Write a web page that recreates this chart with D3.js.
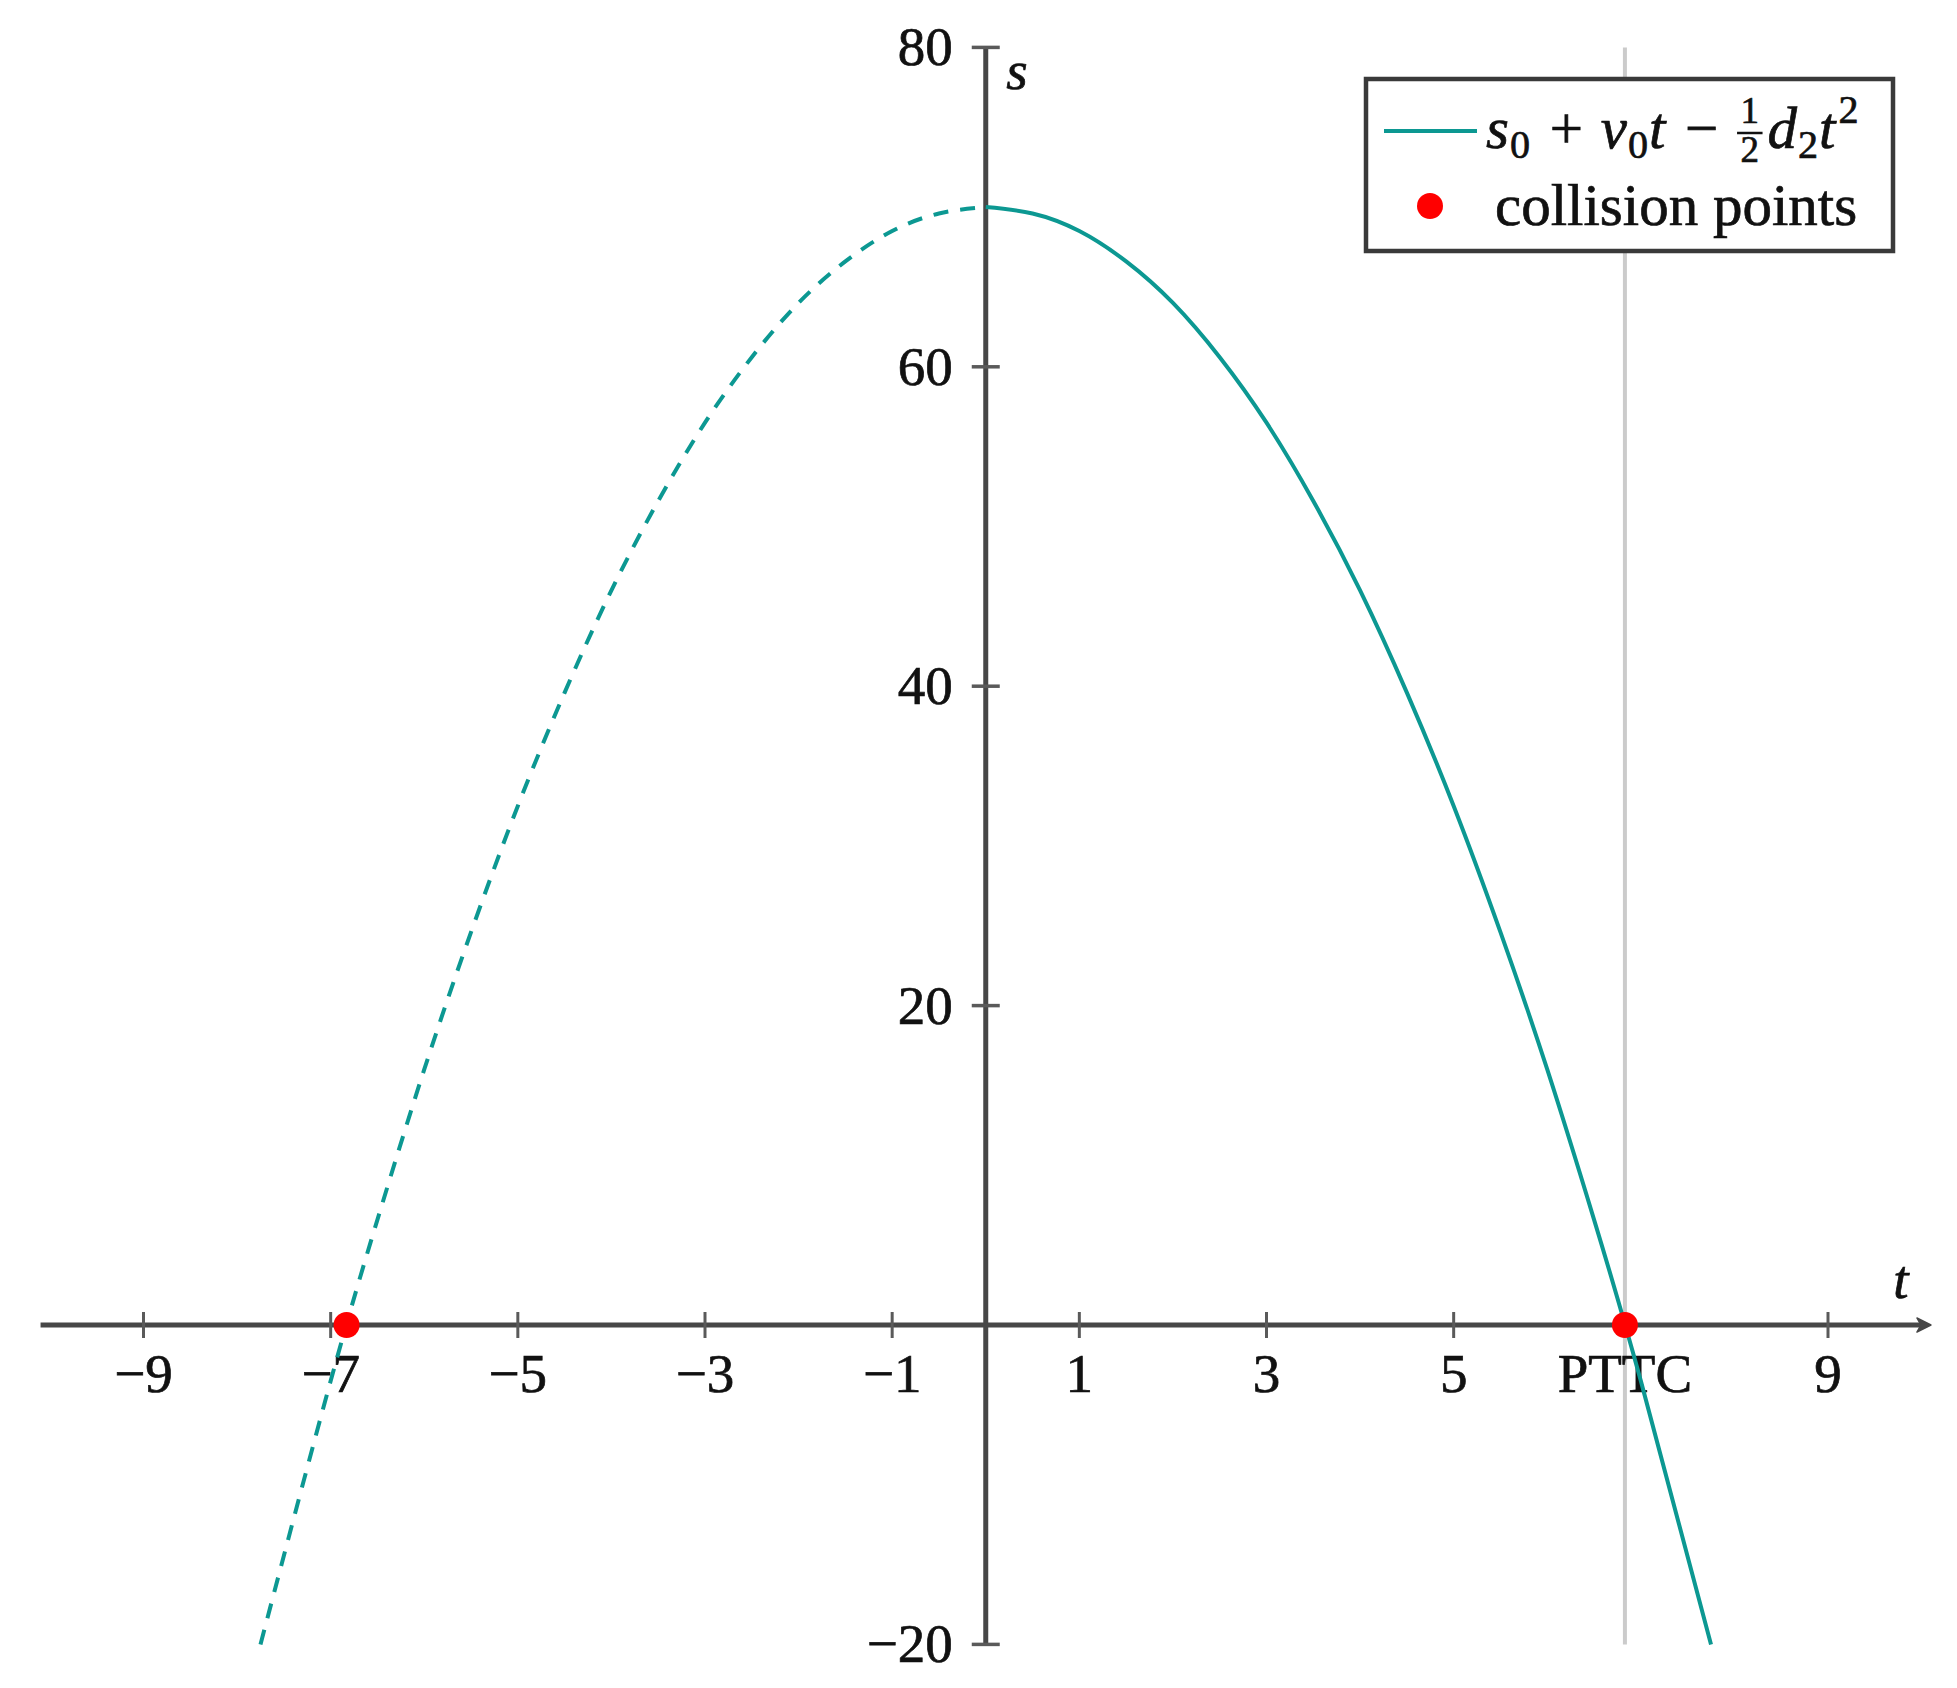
<!DOCTYPE html>
<html>
<head>
<meta charset="utf-8">
<script src="https://cdn.jsdelivr.net/npm/d3@7/dist/d3.min.js"></script>
<style>
  html, body { margin: 0; padding: 0; background: #ffffff; }
  svg { display: block; }
  text { font-family: "Liberation Serif", "DejaVu Serif", serif; stroke: #111; stroke-width: 0.7; }
</style>
</head>
<body>
<svg id="chart" width="1957" height="1688"></svg>
<script>
// ---- data ----
const xTickValues = [-9, -7, -5, -3, -1, 1, 3, 5, 6.83, 9];
const xTickLabels = ["\u22129", "\u22127", "\u22125", "\u22123", "\u22121", "1", "3", "5", "PTTC", "9"];
const yTickValues = [80, 60, 40, 20, -20];
const yTickLabels = ["80", "60", "40", "20", "\u221220"];
const pttc = 6.83;
const collisionT = [-6.83, 6.83];
const collisionS = [0, 0];
// curve for t <= 0 (dashed part)
const dashedT = [-7.75, -7, -6.5, -6, -5.5, -5, -4.5, -4, -3.5, -3, -2.5, -2, -1.5, -1, -0.5, 0];
const dashedS = [-20, -3.5, 6.6, 16, 24.6, 32.5, 39.6, 46, 51.6, 56.5, 60.6, 64, 66.6, 68.5, 69.6, 70];
// curve for t >= 0 (solid part)
const solidT = [0, 0.5, 1, 1.5, 2, 2.5, 3, 3.5, 4, 4.5, 5, 5.5, 6, 6.5, 7, 7.75];
const solidS = [70, 69.6, 68.5, 66.6, 64, 60.6, 56.5, 51.6, 46, 39.6, 32.5, 24.6, 16, 6.6, -3.5, -20];
const xAxisExtent = [-10.1, 10.1];
const yAxisExtent = [-20, 80];
const legendLabels = ["s0 + v0t \u2212 \u00bd d2t\u00b2", "collision points"];

// ---- styling ----
const TEAL = "#0c9892";
const RED = "#ff0000";
const AXIS = "#474747";
const FS = 55;      // tick label font size
const LFS = 59;     // legend font size

const svg = d3.select("#chart");
const x = d3.scaleLinear().domain([-9, 9]).range([143.5, 1828]);
const y = d3.scaleLinear().domain([-20, 80]).range([1644.4, 47.4]);

// PTTC vertical gray line
svg.append("line")
  .attr("x1", x(pttc)).attr("x2", x(pttc))
  .attr("y1", y(yAxisExtent[1])).attr("y2", y(yAxisExtent[0]))
  .attr("stroke", "#cbcbcb").attr("stroke-width", 4);

// axes lines
svg.append("line")
  .attr("x1", x(xAxisExtent[0])).attr("x2", x(xAxisExtent[1]) - 4)
  .attr("y1", y(0)).attr("y2", y(0))
  .attr("stroke", AXIS).attr("stroke-width", 5);
const ax = x(xAxisExtent[1]), ay = y(0);
svg.append("path")
  .attr("d", `M${ax},${ay} L${ax-14},${ay-7} L${ax-10},${ay} L${ax-14},${ay+7} Z`)
  .attr("fill", AXIS).attr("stroke", AXIS).attr("stroke-width", 1.5).attr("stroke-linejoin", "round");

svg.append("line")
  .attr("x1", x(0)).attr("x2", x(0))
  .attr("y1", y(yAxisExtent[1])).attr("y2", y(yAxisExtent[0]))
  .attr("stroke", AXIS).attr("stroke-width", 5);

// ticks
xTickValues.forEach((v, i) => {
  if (xTickLabels[i] === "PTTC") return;
  svg.append("line")
    .attr("x1", x(v)).attr("x2", x(v))
    .attr("y1", y(0) - 13).attr("y2", y(0) + 13)
    .attr("stroke", "#5a5a5a").attr("stroke-width", 3);
});
yTickValues.forEach(v => {
  svg.append("line")
    .attr("x1", x(0) - 14).attr("x2", x(0) + 14)
    .attr("y1", y(v)).attr("y2", y(v))
    .attr("stroke", "#5a5a5a").attr("stroke-width", 3.5);
});

// tick labels
svg.append("g").selectAll("text").data(xTickValues).join("text")
  .attr("x", d => x(d)).attr("y", y(0) + 67)
  .attr("text-anchor", "middle")
  .attr("font-size", FS).attr("fill", "#111")
  .text((d, i) => xTickLabels[i]);

svg.append("g").selectAll("text").data(yTickValues).join("text")
  .attr("x", x(0) - 33).attr("y", d => y(d) + 18)
  .attr("text-anchor", "end")
  .attr("font-size", FS).attr("fill", "#111")
  .text((d, i) => yTickLabels[i]);

// axis labels
svg.append("text").attr("x", 1017).attr("y", 89)
  .attr("text-anchor", "middle").attr("font-size", FS).attr("font-style", "italic")
  .attr("fill", "#111").text("s");
svg.append("text").attr("x", 1901).attr("y", 1298)
  .attr("text-anchor", "middle").attr("font-size", FS).attr("font-style", "italic")
  .attr("fill", "#111").text("t");

// curves
const line = d3.line().x(d => x(d[0])).y(d => y(d[1])).curve(d3.curveNatural);
svg.append("path")
  .attr("d", line(dashedT.map((t, i) => [t, dashedS[i]])))
  .attr("fill", "none").attr("stroke", TEAL).attr("stroke-width", 4)
  .attr("stroke-dasharray", "15 12");
svg.append("path")
  .attr("d", line(solidT.map((t, i) => [t, solidS[i]])))
  .attr("fill", "none").attr("stroke", TEAL).attr("stroke-width", 4);

// collision points
svg.append("g").selectAll("circle").data(collisionT).join("circle")
  .attr("cx", d => x(d)).attr("cy", (d, i) => y(collisionS[i]))
  .attr("r", 13).attr("fill", RED);

// legend
const L = { x0: 1366, y0: 79, x1: 1893, y1: 251 };
svg.append("rect")
  .attr("x", L.x0).attr("y", L.y0).attr("width", L.x1 - L.x0).attr("height", L.y1 - L.y0)
  .attr("fill", "#fff").attr("stroke", "#3a3a3a").attr("stroke-width", 4.5);
const lineY = 131;
svg.append("line").attr("x1", 1384).attr("x2", 1477).attr("y1", lineY).attr("y2", lineY)
  .attr("stroke", TEAL).attr("stroke-width", 4);
svg.append("circle").attr("cx", 1430).attr("cy", 206).attr("r", 13).attr("fill", RED);
svg.append("text").attr("x", 1495).attr("y", 225)
  .attr("font-size", LFS).attr("fill", "#111").text(legendLabels[1]);

// formula s0 + v0 t - 1/2 d2 t^2 as ONE text element with positioned tspans
const axisY = 133;
const base = axisY + 0.25 * LFS;
const gap = 0.3 * LFS;
const sub = 0.68 * LFS;
const fsz = 37;
const pieces = [
  { t: "s", it: true, after: 1 },
  { t: "0", size: sub, dy: 0.17 * LFS, after: gap + 2 },
  { t: "+", after: gap },
  { t: "v", it: true, after: 1 },
  { t: "0", size: sub, dy: 0.17 * LFS, after: 1 },
  { t: "t", it: true, after: gap + 2 },
  { t: "\u2212", after: gap },
  { frac: true },
  { t: "d", it: true, after: 1 },
  { t: "2", size: sub, dy: 0.17 * LFS, after: 1 },
  { t: "t", it: true, after: 3 },
  { t: "2", size: sub, dy: -0.42 * LFS, after: 0 }
];
const tmp = svg.append("text").attr("font-size", LFS);
function measure(txt, size, it) {
  tmp.attr("font-size", size).attr("font-style", it ? "italic" : "normal").text(txt);
  return tmp.node().getComputedTextLength();
}
const formula = svg.append("text").attr("font-size", LFS).attr("fill", "#111");
let cx = 1486;
let fracBar = null;
pieces.forEach(p => {
  if (p.frac) {
    const fw = 0.5 * fsz + 9;
    const w1 = measure("1", fsz, false);
    formula.append("tspan").attr("x", cx + fw / 2 - w1 / 2).attr("y", axisY - 10)
      .attr("font-size", fsz).attr("font-style", "normal").text("1");
    formula.append("tspan").attr("x", cx + fw / 2 - w1 / 2).attr("y", axisY + 29)
      .attr("font-size", fsz).attr("font-style", "normal").text("2");
    fracBar = [cx + 1, cx + fw - 1];
    cx += fw + 4;
    return;
  }
  const size = p.size || LFS;
  formula.append("tspan").attr("x", cx).attr("y", base + (p.dy || 0))
    .attr("font-size", size).attr("font-style", p.it ? "italic" : "normal").text(p.t);
  cx += measure(p.t, size, p.it) + (p.after || 0);
});
tmp.remove();
svg.append("line").attr("x1", fracBar[0]).attr("x2", fracBar[1]).attr("y1", axisY).attr("y2", axisY)
  .attr("stroke", "#111").attr("stroke-width", 2.5);
</script>
</body>
</html>
